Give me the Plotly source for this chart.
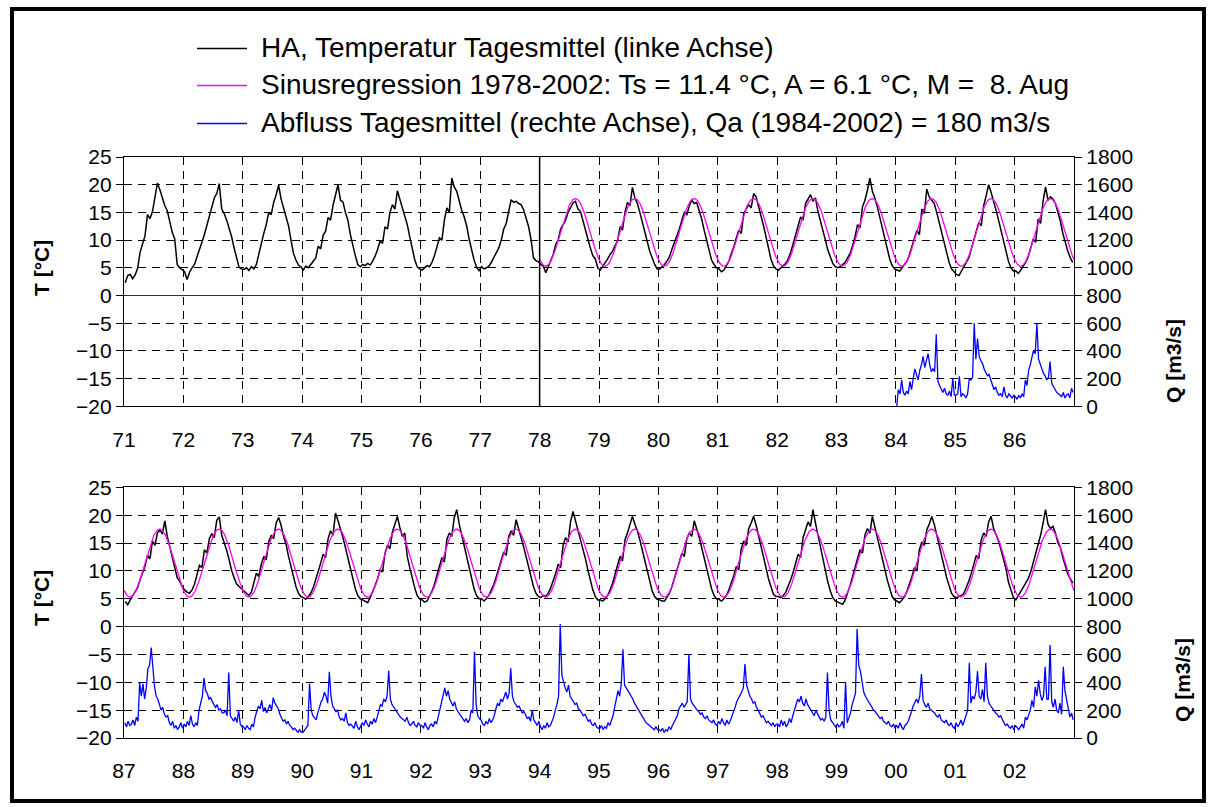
import numpy as np
import plotly.graph_objects as go

# ---------------------------------------------------------------
# Water temperature HA, semi-monthly means (deg C), Jan..Dec (24 values)
# ---------------------------------------------------------------
t1971 = [2.3, 3.6, 3.8, 3.0, 3.7, 4.9, 7.8, 9.3, 10.8, 14.6, 13.9, 15.1, 17.4, 20.3, 19.1, 17.6, 16.2, 15.3, 13.0, 11.4, 10.2, 5.6, 5.0, 4.6]
t1972 = [4.3, 2.9, 4.2, 5.0, 5.6, 7.0, 8.2, 9.6, 11.0, 12.6, 14.2, 15.8, 17.6, 18.4, 20.2, 15.6, 14.8, 13.6, 12.2, 10.6, 8.6, 7.0, 5.1, 4.8]
t1973 = [4.7, 5.0, 4.5, 5.2, 4.8, 5.6, 7.6, 9.4, 11.2, 12.8, 15.0, 14.6, 16.8, 18.2, 19.9, 17.4, 15.8, 14.2, 12.6, 10.0, 7.6, 6.4, 5.5, 5.2]
t1974 = [4.6, 5.3, 5.0, 5.6, 6.1, 6.8, 8.9, 8.4, 10.9, 11.6, 14.1, 13.6, 16.3, 18.0, 20.0, 17.2, 16.9, 15.0, 13.6, 11.0, 8.8, 7.2, 5.6, 5.2]
t1975 = [5.6, 5.4, 5.8, 5.5, 6.2, 7.1, 8.3, 9.8, 9.4, 12.4, 12.0, 15.0, 16.4, 15.6, 18.9, 17.3, 16.1, 14.6, 12.8, 10.6, 8.3, 6.5, 5.2, 4.8]
t1976 = [4.6, 5.0, 5.4, 5.2, 6.0, 7.2, 8.8, 10.4, 10.0, 13.6, 15.8, 15.0, 21.2, 19.6, 18.8, 17.0, 15.4, 14.2, 12.6, 10.2, 8.0, 6.4, 5.1, 4.5]
t1977 = [5.2, 4.8, 5.0, 5.3, 6.0, 6.8, 7.6, 8.6, 10.0, 12.0, 13.0, 14.9, 17.3, 16.8, 17.0, 16.6, 16.4, 15.5, 14.2, 12.5, 10.2, 6.8, 6.3, 6.1]
t1978 = [5.6, 5.3, 4.1, 5.2, 6.0, 7.4, 9.2, 10.0, 12.0, 12.8, 13.6, 15.0, 15.8, 16.7, 17.0, 15.6, 15.2, 13.4, 11.6, 10.2, 8.6, 7.2, 6.6, 5.0]
t1979 = [4.6, 5.2, 5.9, 6.6, 7.4, 8.0, 9.0, 9.8, 12.4, 11.8, 15.0, 16.8, 16.2, 19.5, 17.6, 16.6, 15.0, 13.2, 11.6, 9.8, 8.0, 6.8, 5.6, 4.8]
t1980 = [4.8, 5.2, 5.6, 6.2, 7.0, 8.4, 9.6, 10.8, 12.0, 13.6, 15.0, 14.6, 16.2, 17.2, 16.6, 16.8, 15.4, 13.8, 11.8, 10.0, 8.2, 6.4, 5.6, 5.0]
t1981 = [4.8, 4.3, 4.6, 5.4, 6.2, 7.6, 8.8, 10.4, 11.8, 11.2, 14.8, 15.6, 16.4, 15.8, 18.4, 17.8, 16.2, 14.4, 12.6, 10.6, 8.4, 6.6, 5.4, 4.8]
t1982 = [4.6, 5.0, 5.4, 5.8, 6.6, 7.8, 9.4, 10.8, 12.6, 14.2, 13.6, 16.6, 17.4, 18.2, 17.0, 17.6, 15.2, 13.6, 11.8, 10.0, 8.2, 6.8, 5.8, 5.2]
t1983 = [5.0, 5.2, 5.6, 6.0, 6.8, 7.6, 9.0, 10.6, 12.8, 12.2, 16.0, 17.2, 19.0, 21.2, 18.8, 17.6, 16.0, 14.0, 12.0, 10.0, 8.0, 6.6, 5.4, 4.8]
t1984 = [4.6, 4.4, 5.0, 5.6, 6.2, 7.4, 8.8, 10.2, 11.8, 11.0, 15.6, 14.8, 19.2, 17.8, 17.2, 16.6, 15.0, 13.2, 11.4, 9.4, 7.6, 6.0, 4.8, 4.2]
t1985 = [3.8, 3.6, 4.4, 5.0, 5.8, 6.8, 8.4, 10.0, 11.6, 13.2, 12.6, 16.2, 18.0, 20.0, 18.6, 17.2, 15.4, 13.6, 11.8, 9.8, 7.8, 6.2, 5.0, 4.4]
t1986 = [4.4, 4.0, 4.6, 5.2, 6.0, 7.0, 8.6, 10.2, 9.6, 13.8, 13.0, 17.0, 19.6, 17.2, 17.8, 17.4, 16.6, 15.0, 13.4, 11.2, 9.4, 8.0, 6.8, 6.0]
t1987 = [4.5, 3.9, 4.8, 5.6, 6.4, 7.0, 8.4, 9.8, 10.9, 12.8, 12.2, 15.4, 14.6, 16.8, 17.4, 16.6, 19.0, 16.2, 14.4, 12.8, 10.8, 8.8, 8.2, 7.2]
t1988 = [6.6, 6.2, 6.0, 6.6, 7.6, 9.2, 11.0, 10.6, 13.8, 13.2, 15.8, 16.7, 16.0, 19.1, 19.7, 16.4, 15.2, 13.7, 12.0, 10.1, 8.8, 7.7, 7.2, 6.8]
t1989 = [6.4, 5.9, 5.6, 6.2, 8.2, 9.6, 9.0, 11.2, 12.6, 12.0, 15.2, 16.4, 15.8, 18.6, 19.6, 18.2, 16.2, 14.8, 12.6, 10.8, 9.0, 7.2, 6.0, 5.4]
t1990 = [5.2, 4.9, 5.4, 6.0, 7.0, 8.4, 9.6, 11.4, 13.0, 12.4, 15.8, 17.2, 16.4, 20.4, 19.0, 17.6, 16.0, 14.2, 12.2, 10.2, 8.4, 6.8, 5.6, 5.0]
t1991 = [4.8, 4.6, 4.3, 5.2, 6.2, 7.4, 8.6, 10.2, 9.8, 13.2, 14.6, 14.0, 17.0, 18.4, 19.8, 17.8, 16.2, 16.8, 12.6, 10.6, 8.6, 7.0, 5.6, 5.0]
t1992 = [4.8, 4.4, 4.6, 5.4, 6.4, 7.6, 9.2, 10.8, 12.4, 11.6, 15.6, 16.8, 16.2, 19.6, 21.0, 18.4, 16.4, 14.6, 12.4, 10.4, 8.4, 6.8, 5.6, 5.0]
t1993 = [5.0, 4.6, 5.0, 5.6, 6.6, 7.6, 9.0, 10.4, 12.0, 13.4, 12.8, 16.2, 17.2, 16.4, 19.2, 17.4, 16.0, 14.4, 12.6, 10.8, 8.8, 7.2, 6.0, 5.4]
t1994 = [5.2, 5.6, 5.4, 6.0, 7.0, 8.2, 9.6, 11.2, 10.6, 14.6, 16.0, 15.2, 18.8, 20.7, 19.0, 17.8, 16.0, 14.2, 12.2, 10.2, 8.2, 6.6, 5.4, 4.8]
t1995 = [4.8, 4.6, 5.0, 5.6, 6.6, 7.8, 9.4, 11.0, 12.6, 11.8, 15.6, 16.8, 18.2, 19.8, 18.4, 17.2, 15.6, 13.8, 11.8, 9.8, 8.0, 6.4, 5.4, 4.9]
t1996 = [4.8, 4.6, 4.6, 5.2, 6.0, 7.2, 8.6, 10.0, 11.6, 13.2, 12.6, 15.8, 16.8, 16.2, 19.0, 17.6, 16.0, 14.2, 12.4, 10.4, 8.4, 6.8, 5.6, 5.0]
t1997 = [4.9, 4.6, 5.0, 5.6, 6.6, 7.8, 9.2, 10.8, 10.2, 14.0, 15.4, 14.6, 17.6, 18.6, 19.8, 18.2, 16.4, 14.6, 12.6, 10.6, 8.6, 7.0, 5.8, 5.4]
t1998 = [5.4, 5.2, 5.6, 6.2, 7.2, 8.4, 9.8, 11.4, 13.0, 12.4, 16.0, 17.4, 18.8, 18.0, 21.0, 18.6, 16.4, 14.4, 12.2, 10.0, 8.0, 6.4, 5.2, 4.6]
t1999 = [4.4, 4.2, 4.0, 4.8, 6.0, 7.4, 9.0, 10.6, 12.2, 13.8, 13.2, 16.4, 17.6, 16.8, 19.8, 18.0, 16.2, 14.4, 12.4, 10.4, 8.4, 6.8, 5.4, 4.8]
t2000 = [4.6, 4.3, 4.8, 5.4, 6.4, 7.6, 9.0, 10.6, 10.0, 13.8, 15.2, 14.6, 17.4, 18.4, 19.8, 18.4, 16.6, 14.8, 12.8, 10.8, 8.8, 7.2, 6.0, 5.4]
t2001 = [5.2, 5.4, 5.6, 6.0, 7.0, 8.2, 9.6, 11.2, 12.8, 12.2, 15.6, 16.8, 16.2, 18.8, 19.8, 17.6, 16.4, 15.4, 13.8, 12.0, 10.4, 8.0, 6.4, 5.2]
t2002 = [4.8, 5.6, 6.4, 7.0, 7.8, 8.6, 9.8, 11.4, 13.2, 14.8, 16.4, 18.6, 21.0, 18.4, 17.6, 18.0, 16.8, 15.0, 14.2, 12.4, 10.8, 9.4, 8.6, 7.8]

# ---------------------------------------------------------------
# Discharge, 10-day means (m3/s), 36 values per year
# ---------------------------------------------------------------
q1984 = [0, 120, 90, 190, 100, 80, 110, 90, 180, 120, 200, 270, 230, 190, 260, 300, 360, 280, 330, 380, 300, 250, 270, 250, 520, 180, 150, 120, 100, 130, 90, 80, 110, 70, 200, 80]
q1985 = [80, 90, 216, 70, 90, 80, 60, 90, 200, 190, 210, 600, 340, 490, 360, 330, 310, 270, 250, 220, 230, 190, 150, 120, 140, 100, 80, 90, 70, 140, 80, 60, 90, 70, 60, 80]
q1986 = [70, 50, 80, 60, 90, 70, 190, 150, 262, 300, 360, 407, 380, 600, 340, 300, 262, 238, 220, 190, 210, 323, 166, 140, 118, 100, 90, 80, 70, 100, 60, 80, 90, 60, 130, 100]
q1987 = [110, 80, 120, 90, 100, 130, 90, 150, 120, 400, 300, 390, 280, 360, 500, 520, 650, 480, 370, 300, 280, 240, 200, 220, 170, 150, 160, 110, 90, 120, 70, 90, 60, 80, 110, 70]
q1988 = [100, 80, 120, 90, 160, 100, 80, 110, 90, 200, 260, 300, 430, 340, 320, 280, 290, 260, 240, 220, 240, 200, 210, 180, 180, 200, 160, 470, 160, 140, 120, 150, 110, 200, 100, 80]
q1989 = [80, 60, 90, 70, 60, 100, 80, 150, 200, 230, 210, 270, 190, 220, 180, 210, 240, 200, 290, 250, 230, 210, 170, 140, 120, 130, 100, 120, 90, 80, 60, 70, 50, 40, 60, 40]
q1990 = [40, 60, 80, 90, 390, 200, 160, 140, 130, 180, 220, 260, 280, 330, 300, 250, 476, 300, 230, 210, 190, 200, 150, 130, 140, 120, 180, 110, 90, 100, 80, 70, 120, 80, 60, 90]
q1991 = [110, 90, 130, 100, 80, 120, 100, 140, 110, 150, 200, 240, 230, 280, 260, 300, 483, 280, 240, 220, 200, 190, 170, 150, 140, 130, 120, 150, 110, 90, 100, 120, 90, 80, 110, 90]
q1992 = [90, 70, 110, 80, 60, 90, 100, 80, 120, 100, 150, 200, 260, 310, 360, 300, 340, 280, 250, 230, 260, 210, 190, 170, 150, 130, 120, 140, 110, 130, 200, 180, 619, 240, 160, 140]
q1993 = [130, 100, 90, 120, 100, 140, 110, 130, 160, 210, 250, 230, 280, 260, 300, 330, 280, 320, 500, 300, 260, 240, 220, 230, 200, 180, 190, 160, 140, 150, 120, 200, 130, 110, 90, 120]
q1994 = [80, 60, 90, 70, 110, 80, 90, 120, 150, 200, 240, 300, 818, 450, 400, 360, 330, 380, 300, 280, 260, 240, 250, 210, 200, 180, 160, 170, 140, 120, 130, 100, 90, 110, 80, 70]
q1995 = [70, 90, 60, 80, 70, 110, 90, 130, 160, 220, 280, 340, 300, 390, 638, 380, 360, 340, 330, 300, 280, 250, 230, 210, 190, 160, 140, 130, 110, 100, 90, 80, 70, 60, 80, 60]
q1996 = [60, 50, 70, 40, 60, 50, 80, 60, 90, 110, 130, 160, 210, 230, 250, 220, 240, 260, 603, 280, 250, 230, 210, 200, 190, 170, 180, 150, 140, 160, 130, 120, 110, 130, 100, 90]
q1997 = [120, 100, 140, 110, 90, 130, 100, 120, 150, 180, 220, 260, 280, 300, 330, 360, 531, 380, 340, 300, 280, 250, 260, 220, 200, 170, 150, 160, 130, 110, 120, 100, 90, 110, 80, 100]
q1998 = [100, 80, 130, 90, 120, 80, 100, 140, 110, 160, 200, 240, 280, 260, 300, 250, 230, 280, 240, 220, 200, 180, 160, 200, 170, 150, 130, 140, 120, 150, 470, 200, 130, 110, 90, 80]
q1999 = [100, 80, 90, 120, 70, 400, 110, 150, 180, 240, 280, 320, 782, 520, 480, 400, 330, 300, 280, 250, 230, 210, 200, 190, 170, 160, 140, 150, 120, 110, 100, 120, 90, 80, 100, 70]
q2000 = [90, 70, 110, 80, 60, 90, 100, 120, 150, 190, 230, 260, 280, 250, 300, 459, 270, 240, 220, 250, 210, 200, 190, 180, 160, 150, 170, 130, 120, 110, 130, 100, 90, 110, 80, 70]
q2001 = [110, 80, 100, 130, 90, 120, 160, 200, 540, 250, 300, 280, 330, 480, 300, 280, 350, 260, 540, 300, 250, 230, 210, 200, 180, 170, 150, 160, 130, 110, 90, 100, 80, 70, 90, 60]
q2002 = [90, 70, 60, 80, 100, 70, 150, 130, 170, 200, 270, 220, 367, 300, 415, 320, 270, 300, 511, 280, 280, 667, 260, 220, 280, 200, 180, 250, 170, 511, 340, 270, 200, 150, 180, 130]

# Sine regression 1978-2002 (mean, amplitude, day of maximum = 8 Aug)
TS, AMP, PEAK_DOY = 11.4, 6.1, 220
REG_START = 78

# Panel year ranges (two-digit years on the axis)
PANEL_TOP = (71, 87)
PANEL_BOTTOM = (87, 103)

temp_series = [(1971, t1971), (1972, t1972), (1973, t1973), (1974, t1974), (1975, t1975),
               (1976, t1976), (1977, t1977), (1978, t1978), (1979, t1979), (1980, t1980),
               (1981, t1981), (1982, t1982), (1983, t1983), (1984, t1984), (1985, t1985),
               (1986, t1986), (1987, t1987), (1988, t1988), (1989, t1989), (1990, t1990),
               (1991, t1991), (1992, t1992), (1993, t1993), (1994, t1994), (1995, t1995),
               (1996, t1996), (1997, t1997), (1998, t1998), (1999, t1999), (2000, t2000),
               (2001, t2001), (2002, t2002)]
flow_series = [(1984, q1984), (1985, q1985), (1986, q1986), (1987, q1987), (1988, q1988),
               (1989, q1989), (1990, q1990), (1991, q1991), (1992, q1992), (1993, q1993),
               (1994, q1994), (1995, q1995), (1996, q1996), (1997, q1997), (1998, q1998),
               (1999, q1999), (2000, q2000), (2001, q2001), (2002, q2002)]


def to_axis(series, lo, hi):
    """Flatten yearly lists into (x, y) with x = two-digit year + fraction."""
    xs, ys = [], []
    for year, vals in series:
        yy = year - 1900
        if lo <= yy < hi:
            n = len(vals)
            xs.extend(yy + (np.arange(n) + 0.5) / n)
            ys.extend(vals)
    return np.array(xs), np.array(ys)


def sine_fit(x):
    peak = (PEAK_DOY - 0.5) / 365.0
    return TS + AMP * np.cos(2 * np.pi * (x - peak))


FONT = "Liberation Sans, Arial, Helvetica, sans-serif"
BLACK_T, MAGENTA, BLUE = "#000000", "#ff00ff", "#0000ff"

fig = go.Figure()

panels = [
    (PANEL_TOP, "x", "y", "y2"),
    (PANEL_BOTTOM, "x2", "y3", "y4"),
]
for (lo, hi), xa, ya, qa in panels:
    tx, ty = to_axis(temp_series, lo, hi)
    fig.add_trace(go.Scatter(x=tx, y=ty, mode="lines", xaxis=xa, yaxis=ya,
                             line=dict(color=BLACK_T, width=1.5), showlegend=False))
    s0 = max(lo, REG_START)
    sx = np.linspace(s0, hi, int((hi - s0) * 146) + 1)
    fig.add_trace(go.Scatter(x=sx, y=sine_fit(sx), mode="lines", xaxis=xa, yaxis=ya,
                             line=dict(color=MAGENTA, width=1.3), showlegend=False))
    qx, qy = to_axis(flow_series, lo, hi)
    fig.add_trace(go.Scatter(x=qx, y=qy, mode="lines", xaxis=xa, yaxis=qa,
                             line=dict(color=BLUE, width=1.3), showlegend=False))

# pixel geometry of the plotting frame
W, H = 1210, 807
ML, MR, MT, MB = 124, 136, 157, 69
PW, PH = W - ML - MR, H - MT - MB


def px(x):
    return (x - ML) / PW


def py(y):
    return (H - MB - y) / PH


top_dom = [py(406.3), 1.0]
bot_dom = [0.0, py(487.4)]

grid_common = dict(showgrid=True, gridcolor="#000000", gridwidth=1, griddash="8px,6px",
                   showline=True, linecolor="#000000", linewidth=1.3,
                   tickfont=dict(family=FONT, size=21, color="#000000"))

t_ticks = list(range(-20, 26, 5))
q_ticks = list(range(0, 1801, 200))

layout = dict(
    width=W, height=H, paper_bgcolor="white", plot_bgcolor="white",
    margin=dict(l=ML, r=MR, t=MT, b=MB), showlegend=False,
    font=dict(family=FONT, size=21, color="#000000"),
)
for name, (lo, hi), anchor in (("xaxis", PANEL_TOP, "y"), ("xaxis2", PANEL_BOTTOM, "y3")):
    vals = list(range(lo, hi))
    layout[name] = dict(grid_common, range=[lo, hi], tickvals=vals,
                        ticktext=[f"{v % 100:02d}" for v in vals], anchor=anchor,
                        ticks="", ticklabelstandoff=14, mirror=True, zeroline=False)
for name, dom, anchor in (("yaxis", top_dom, "x"), ("yaxis3", bot_dom, "x2")):
    layout[name] = dict(grid_common, domain=dom, anchor=anchor, range=[-20, 25],
                        tickvals=t_ticks, ticks="outside", ticklen=7, tickcolor="#000000",
                        mirror=True, zeroline=True, zerolinecolor="#333333", zerolinewidth=1.4)
for name, over, anchor in (("yaxis2", "y", "x"), ("yaxis4", "y3", "x2")):
    layout[name] = dict(overlaying=over, side="right", anchor=anchor, range=[0, 1800],
                        tickvals=q_ticks, ticks="outside", ticklen=7, tickcolor="#000000",
                        showgrid=False, zeroline=False, showline=True, linecolor="#000000",
                        linewidth=1.3, tickfont=dict(family=FONT, size=21, color="#000000"))
fig.update_layout(**layout)

shapes = []
# start of the regression period
shapes.append(dict(type="line", xref="x", yref="y", x0=REG_START, x1=REG_START, y0=-20, y1=25,
                   line=dict(color="#000000", width=1.5)))
# outer frame
shapes.append(dict(type="rect", xref="paper", yref="paper", x0=px(12), x1=px(1204),
                   y0=py(801), y1=py(9), line=dict(color="#000000", width=4)))

annotations = []
legend_rows = [
    (BLACK_T, "HA, Temperatur Tagesmittel (linke Achse)", 48.5),
    (MAGENTA, f"Sinusregression 1978-2002: Ts = {TS} °C, A = {AMP} °C, M = \u00a08. Aug", 85.5),
    (BLUE, "Abfluss Tagesmittel (rechte Achse), Qa (1984-2002) = 180 m3/s", 123.5),
]
for color, label, yrow in legend_rows:
    shapes.append(dict(type="line", xref="paper", yref="paper", x0=px(197), x1=px(247),
                       y0=py(yrow), y1=py(yrow), line=dict(color=color, width=1.6)))
    annotations.append(dict(xref="paper", yref="paper", x=px(259), y=py(yrow - 1),
                            xanchor="left", yanchor="middle", showarrow=False, text=label,
                            font=dict(family=FONT, size=28, color="#000000")))

for ytxt in (268, 598):
    annotations.append(dict(xref="paper", yref="paper", x=px(41), y=py(ytxt), textangle=-90,
                            showarrow=False, xanchor="center", yanchor="middle",
                            text="<b>T [°C]</b>", font=dict(family=FONT, size=21, color="#000000")))
for xtxt, ytxt in ((1173, 361), (1182, 680)):
    annotations.append(dict(xref="paper", yref="paper", x=px(xtxt), y=py(ytxt), textangle=-90,
                            showarrow=False, xanchor="center", yanchor="middle",
                            text="<b>Q [m3/s]</b>", font=dict(family=FONT, size=21, color="#000000")))

fig.update_layout(shapes=shapes, annotations=annotations)
fig.write_html("out.html")
